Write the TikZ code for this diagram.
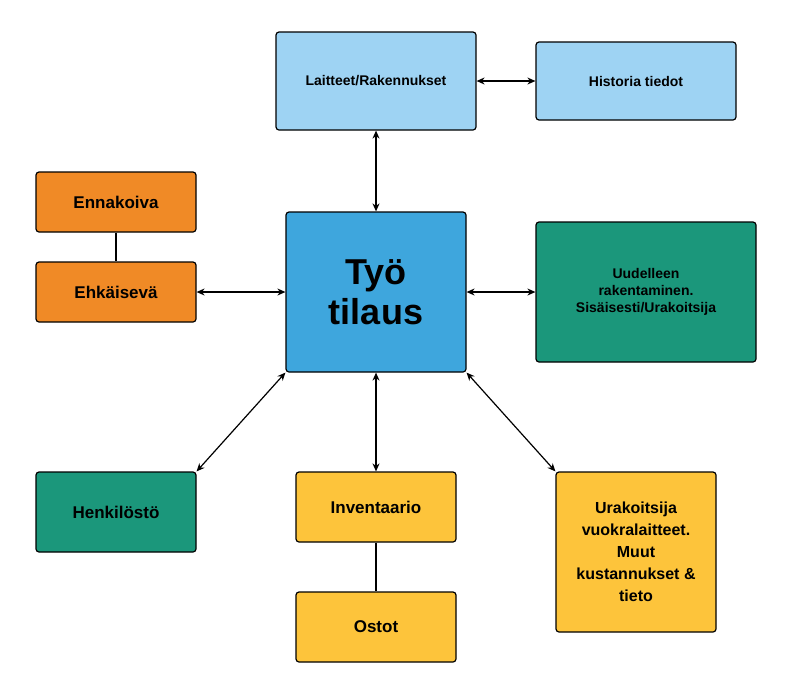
\documentclass[tikz,border=0pt]{standalone}
\usepackage{fontspec}
\setmainfont{Liberation Sans}
\usetikzlibrary{arrows.meta}
\definecolor{LightBlue}{HTML}{9ED3F3}
\definecolor{MidBlue}{HTML}{3EA6DD}
\definecolor{OrangeBox}{HTML}{F08A26}
\definecolor{GreenBox}{HTML}{1B977B}
\definecolor{YellowBox}{HTML}{FDC43B}
\tikzset{
  box/.style={draw=black,line width=1.2pt,rounded corners=3pt,align=center,font=\bfseries\fontsize{14}{17}\selectfont,inner sep=2pt},
  link/.style={{Stealth[length=8pt,width=7pt]}-{Stealth[length=8pt,width=7pt]},line width=1.2pt},
  plain/.style={line width=1.2pt}
}
\begin{document}
\begin{tikzpicture}[x=1pt,y=-1pt]
  \useasboundingbox (0,0) rectangle (792,694);
  % top row
  \node[box,fill=LightBlue,minimum width=200pt,minimum height=98pt] (laitteet) at (376,81) {Laitteet/Rakennukset};
  \node[box,fill=LightBlue,minimum width=200pt,minimum height=78pt] (historia) at (636,81) {Historia tiedot};
  % centre
  \node[box,fill=MidBlue,minimum width=180pt,minimum height=160pt,font=\bfseries\fontsize{36}{40}\selectfont] (tyo) at (376,292) {Työ\\tilaus};
  % left
  \node[box,fill=OrangeBox,minimum width=160pt,minimum height=60pt,font=\bfseries\fontsize{17}{20}\selectfont] (ennakoiva) at (116,202) {Ennakoiva};
  \node[box,fill=OrangeBox,minimum width=160pt,minimum height=60pt,font=\bfseries\fontsize{17}{20}\selectfont] (ehkaiseva) at (116,292) {Ehkäisevä};
  % right
  \node[box,fill=GreenBox,minimum width=220pt,minimum height=140pt] (uudelleen) at (646,292) {Uudelleen\\rakentaminen.\\Sisäisesti/Urakoitsija};
  % bottom row
  \node[box,fill=GreenBox,minimum width=160pt,minimum height=80pt,font=\bfseries\fontsize{17}{20}\selectfont] (henkilosto) at (116,512) {Henkilöstö};
  \node[box,fill=YellowBox,minimum width=160pt,minimum height=70pt,font=\bfseries\fontsize{17}{20}\selectfont] (inventaario) at (376,507) {Inventaario};
  \node[box,fill=YellowBox,minimum width=160pt,minimum height=70pt,font=\bfseries\fontsize{17}{20}\selectfont] (ostot) at (376,627) {Ostot};
  \node[box,fill=YellowBox,minimum width=160pt,minimum height=160pt,font=\bfseries\fontsize{16}{22}\selectfont] (urakoitsija) at (636,552) {Urakoitsija\\vuokralaitteet.\\Muut\\kustannukset \&\\tieto};

  % connectors
  \draw[link] (laitteet) -- (historia);
  \draw[link] (laitteet) -- (tyo);
  \draw[link] (ehkaiseva) -- (tyo);
  \draw[link] (tyo) -- (uudelleen);
  \draw[link] (tyo) -- (inventaario);
  \draw[link] (tyo.south west) -- (henkilosto.north east);
  \draw[link] (tyo.south east) -- (urakoitsija.north west);
  \draw[plain] (ennakoiva) -- (ehkaiseva);
  \draw[plain] (inventaario) -- (ostot);
\end{tikzpicture}
\end{document}
